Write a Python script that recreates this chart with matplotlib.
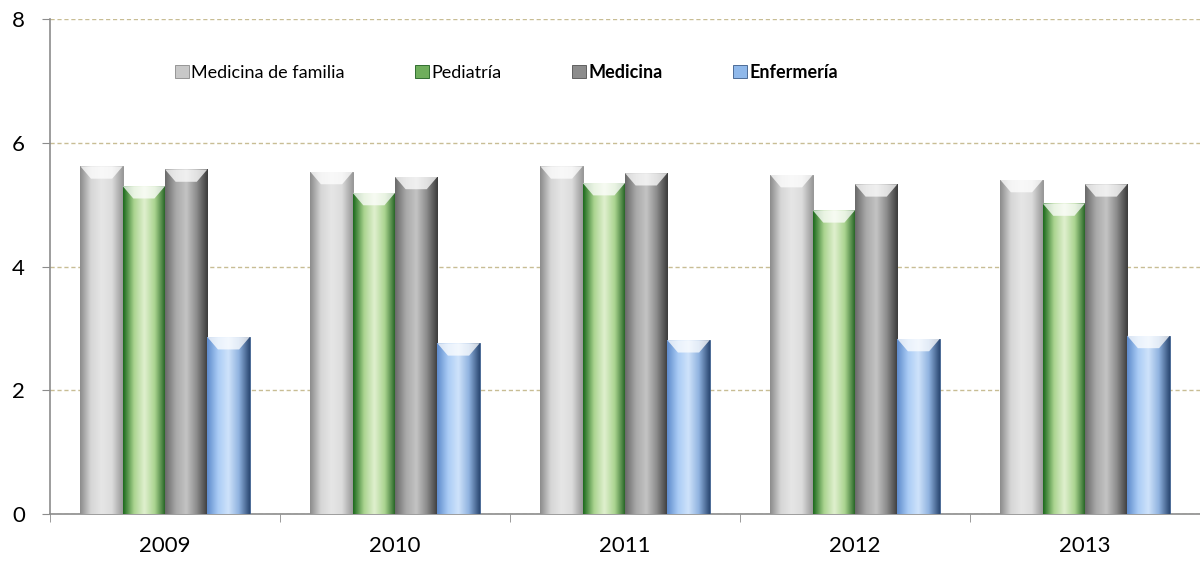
import numpy as np
import matplotlib
matplotlib.use('Agg')
import matplotlib.pyplot as plt
from matplotlib.colors import LinearSegmentedColormap

years = ['2009', '2010', '2011', '2012', '2013']
series = ['Medicina de familia', 'Pediatría', 'Medicina', 'Enfermería']
medicina_familia = [5.62, 5.53, 5.62, 5.48, 5.40]
pediatria = [5.30, 5.19, 5.35, 4.91, 5.02]
medicina = [5.57, 5.45, 5.51, 5.33, 5.33]
enfermeria = [2.86, 2.76, 2.81, 2.83, 2.88]

# colour ramps across the bar width (left edge -> centre -> right edge)
ramps = [
    ['#8c8c8c', '#d6d6d6', '#e6e6e6', '#dcdcdc', '#9a9a9a'],
    ['#1d6a1d', '#a9d38e', '#e0f0cf', '#a9d38e', '#1f5f1f'],
    ['#6a6a6a', '#a8a8a8', '#c4c4c4', '#8a8a8a', '#3c3c3c'],
    ['#5f8ccc', '#a9cbf5', '#cfe3fb', '#8fb2df', '#2d4a74'],
]
mid_colors = ['#c8c8c8', '#6fae5c', '#8c8c8c', '#8fb8ea']
edge_colors = ['#8a8a8a', '#1e5e1e', '#505050', '#3a5a88']

plt.rcParams['font.family'] = ['Lato', 'DejaVu Sans']

fig = plt.figure(figsize=(12, 5.61), dpi=100)
ax = fig.add_axes([0.0417, 0.0838, 0.9583, 0.8822])

x = np.arange(len(years))
w = 0.184
data = [medicina_familia, pediatria, medicina, enfermeria]
for i, vals in enumerate(data):
    bars = ax.bar(x + (i - 1.5) * w, vals, w, color=mid_colors[i],
                  edgecolor=edge_colors[i], linewidth=0.6, label=series[i], zorder=3)
    cmap = LinearSegmentedColormap.from_list('r%d' % i, ramps[i])
    grad = np.linspace(0, 1, 64).reshape(1, -1)
    for b in bars:
        bx, by = b.get_x(), b.get_y()
        bw, bh = b.get_width(), b.get_height()
        im = ax.imshow(grad, cmap=cmap, aspect='auto', zorder=4,
                       extent=[bx, bx + bw, by, by + bh], interpolation='bicubic')
        im.set_clip_path(b)
        # bevelled top highlight
        ax.fill([bx, bx + bw, bx + bw * 0.75, bx + bw * 0.25],
                [by + bh, by + bh, by + bh - 0.2, by + bh - 0.2],
                color='white', alpha=0.75, zorder=5, linewidth=0)

ax.set_xlim(-0.5, 4.43)
ax.set_ylim(0, 8)
ax.set_yticks([0, 2, 4, 6, 8])
ax.set_xticks(x)
ax.set_xticklabels(years, fontsize=16)
ax.set_xticks(np.arange(-0.5, 5, 1), minor=True)
ax.tick_params(axis='x', which='major', length=0, pad=16)
ax.tick_params(axis='x', which='minor', length=6, color='#8c8c8c', direction='out')
ax.tick_params(axis='y', length=6, color='#8c8c8c', labelsize=16, pad=12)
ax.yaxis.grid(True, linestyle=(0, (3, 2)), color='#c8bd94', linewidth=1, zorder=0)
ax.set_axisbelow(True)
for s in ['top', 'right']:
    ax.spines[s].set_visible(False)
for s in ['left', 'bottom']:
    ax.spines[s].set_color('#8c8c8c')
    ax.spines[s].set_linewidth(1.2)

leg = ax.legend(loc='center', bbox_to_anchor=(0.397, 0.893), ncol=4, frameon=False,
                fontsize=13, handlelength=0.75, handleheight=0.75, handletextpad=0.15,
                columnspacing=3.9)
for t in leg.get_texts()[2:]:
    t.set_fontweight('bold')

fig.savefig('out.png', dpi=100)
